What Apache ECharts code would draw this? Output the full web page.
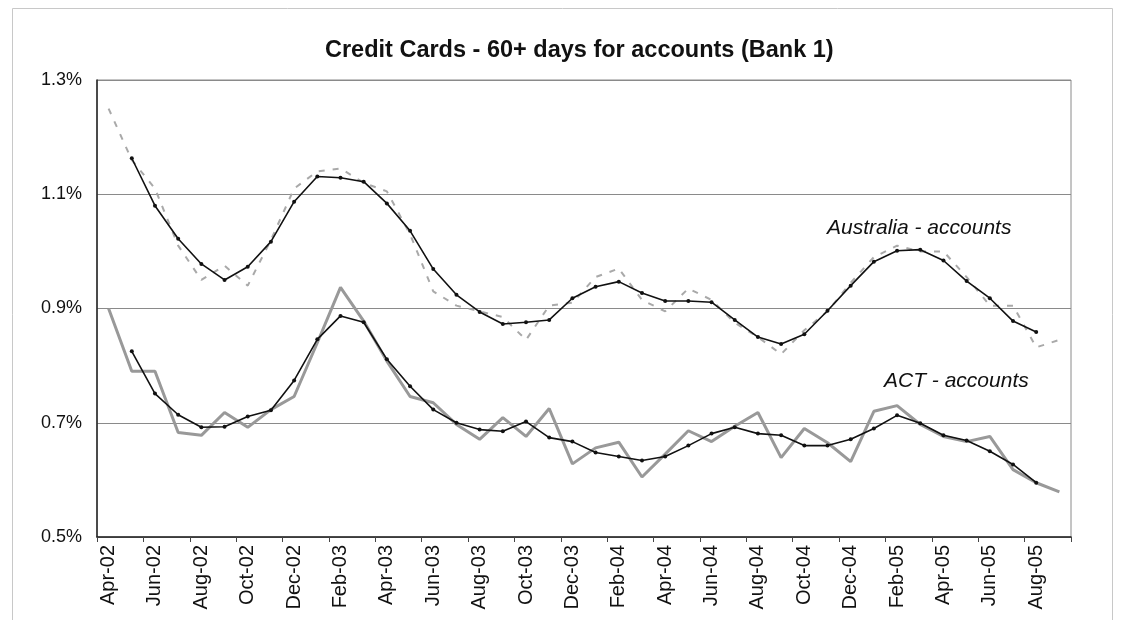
<!DOCTYPE html>
<html>
<head>
<meta charset="utf-8">
<script src="https://cdn.jsdelivr.net/npm/echarts@6/dist/echarts.min.js"></script>
<style>
  html, body { margin: 0; padding: 0; background: #fff; }
  #chart { width: 1122px; height: 620px; }
</style>
</head>
<body>
<div id="chart"></div>
<script>
// monthly categories, Apr-02 .. Sep-05
var months = ['Apr-02','May-02','Jun-02','Jul-02','Aug-02','Sep-02','Oct-02','Nov-02','Dec-02',
  'Jan-03','Feb-03','Mar-03','Apr-03','May-03','Jun-03','Jul-03','Aug-03','Sep-03','Oct-03','Nov-03','Dec-03',
  'Jan-04','Feb-04','Mar-04','Apr-04','May-04','Jun-04','Jul-04','Aug-04','Sep-04','Oct-04','Nov-04','Dec-04',
  'Jan-05','Feb-05','Mar-05','Apr-05','May-05','Jun-05','Jul-05','Aug-05','Sep-05'];

// Australia - accounts (%), raw and trend
var ausRaw = [1.25,1.16,1.11,1.01,0.95,0.975,0.94,1.02,1.11,1.14,1.145,1.12,1.105,1.03,0.93,0.905,
  0.895,0.885,0.845,0.905,0.91,0.955,0.97,0.915,0.895,0.935,0.915,0.875,0.85,0.82,0.862,0.895,
  0.945,0.99,1.01,1.0,1.0,0.955,0.905,0.905,0.832,0.845];
var ausTrend = [null,1.163,1.080,1.022,0.978,0.950,0.973,1.017,1.087,1.131,1.129,1.122,1.084,1.036,
  0.969,0.924,0.894,0.873,0.876,0.880,0.918,0.938,0.947,0.927,0.913,0.913,0.911,0.880,0.850,0.838,
  0.855,0.896,0.940,0.982,1.001,1.003,0.984,0.948,0.918,0.878,0.859,null];

// ACT - accounts (%), raw and trend
var actRaw = [0.90,0.790,0.790,0.683,0.678,0.718,0.692,0.723,0.746,0.840,0.937,0.878,0.808,0.746,
  0.735,0.697,0.671,0.709,0.676,0.725,0.628,0.656,0.666,0.605,0.645,0.686,0.667,0.694,0.718,0.639,
  0.690,0.665,0.632,0.720,0.730,0.697,0.676,0.667,0.676,0.618,0.595,0.579];
var actTrend = [null,0.825,0.751,0.714,0.692,0.693,0.711,0.722,0.774,0.846,0.887,0.876,0.811,0.764,
  0.723,0.700,0.688,0.685,0.702,0.674,0.667,0.648,0.641,0.634,0.641,0.660,0.681,0.692,0.681,0.678,
  0.660,0.660,0.671,0.690,0.713,0.699,0.678,0.669,0.650,0.627,0.595,null];

var font = '"Liberation Sans", Arial, sans-serif';
var chart = echarts.init(document.getElementById('chart'));

var option = {
  backgroundColor: '#fff',
  animation: false,
  title: {
    text: 'Credit Cards - 60+ days for accounts (Bank 1)',
    left: 320,
    top: 34,
    textStyle: { fontFamily: font, fontSize: 23.5, fontWeight: 'bold', color: '#111' }
  },
  grid: {
    left: 97, right: 51, top: 80, bottom: 83,
    show: true, borderColor: '#8a8a8a', borderWidth: 1
  },
  xAxis: {
    type: 'category',
    data: months,
    boundaryGap: true,
    axisLine: { lineStyle: { color: '#222', width: 1.5 } },
    axisTick: { show: true, interval: 1, length: 5, lineStyle: { color: '#444' } },
    axisLabel: {
      interval: 1, rotate: 90, margin: 8,
      fontFamily: font, fontSize: 20, color: '#111'
    },
    splitLine: { show: false }
  },
  yAxis: {
    type: 'value',
    min: 0.5, max: 1.3, interval: 0.2,
    axisLine: { show: true, lineStyle: { color: '#222', width: 1.5 } },
    axisTick: { show: false },
    axisLabel: {
      margin: 15, fontFamily: font, fontSize: 18, color: '#111',
      formatter: function (v) { return v.toFixed(1) + '%'; }
    },
    splitLine: { show: true, lineStyle: { color: '#8a8a8a', width: 1 } }
  },
  series: [
    {
      name: 'Australia raw', type: 'line', data: ausRaw,
      showSymbol: false, z: 2,
      lineStyle: { color: '#a9a9a9', width: 2, type: [6, 8] }
    },
    {
      name: 'Australia trend', type: 'line', data: ausTrend,
      symbol: 'circle', symbolSize: 4, z: 3,
      itemStyle: { color: '#111' },
      lineStyle: { color: '#111', width: 1.6 }
    },
    {
      name: 'ACT raw', type: 'line', data: actRaw,
      showSymbol: false, z: 2,
      lineStyle: { color: '#999', width: 3 }
    },
    {
      name: 'ACT trend', type: 'line', data: actTrend,
      symbol: 'circle', symbolSize: 4, z: 3,
      itemStyle: { color: '#111' },
      lineStyle: { color: '#111', width: 1.6 }
    }
  ],
  graphic: [
    {
      type: 'rect', z: -1, silent: true,
      shape: { x: 12.5, y: 8.5, width: 1100, height: 640 },
      style: { fill: null, stroke: '#c8c8c8', lineWidth: 1 }
    },
    {
      type: 'text', left: 827, top: 218,
      style: { text: 'Australia - accounts', font: 'italic 21px ' + font, fill: '#111' }
    },
    {
      type: 'text', left: 884, top: 371,
      style: { text: 'ACT - accounts', font: 'italic 21px ' + font, fill: '#111' }
    }
  ]
};

chart.setOption(option);
</script>
</body>
</html>
